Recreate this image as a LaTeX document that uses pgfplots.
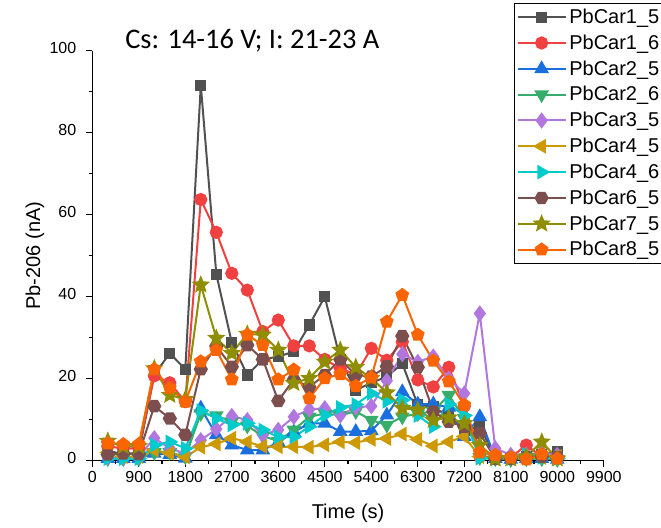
\documentclass[border=0pt]{standalone}
\usepackage{fontspec}
\setmainfont{Liberation Sans}
\newfontfamily\titlefont{Carlito}
\usepackage{pgfplots}
\pgfplotsset{compat=1.18}
\usetikzlibrary{plotmarks}
\definecolor{c1}{HTML}{515151}
\definecolor{c2}{HTML}{F14040}
\definecolor{c3}{HTML}{1A6FDF}
\definecolor{c4}{HTML}{37AD6B}
\definecolor{c5}{HTML}{B177DE}
\definecolor{c6}{HTML}{CC9900}
\definecolor{c7}{HTML}{00CBCC}
\definecolor{c8}{HTML}{7D4E4E}
\definecolor{c9}{HTML}{8E8E00}
\definecolor{c10}{HTML}{FB6501}
\pgfdeclareplotmark{hexagon*}{%
  \pgfpathmoveto{\pgfpointpolar{0}{\pgfplotmarksize}}%
  \pgfpathlineto{\pgfpointpolar{60}{\pgfplotmarksize}}%
  \pgfpathlineto{\pgfpointpolar{120}{\pgfplotmarksize}}%
  \pgfpathlineto{\pgfpointpolar{180}{\pgfplotmarksize}}%
  \pgfpathlineto{\pgfpointpolar{240}{\pgfplotmarksize}}%
  \pgfpathlineto{\pgfpointpolar{300}{\pgfplotmarksize}}%
  \pgfpathclose\pgfusepathqfillstroke}
\pgfdeclareplotmark{fstar*}{%
  \pgfpathmoveto{\pgfpointpolar{90}{\pgfplotmarksize}}%
  \pgfpathlineto{\pgfpointpolar{126}{0.45\pgfplotmarksize}}%
  \pgfpathlineto{\pgfpointpolar{162}{\pgfplotmarksize}}%
  \pgfpathlineto{\pgfpointpolar{198}{0.45\pgfplotmarksize}}%
  \pgfpathlineto{\pgfpointpolar{234}{\pgfplotmarksize}}%
  \pgfpathlineto{\pgfpointpolar{270}{0.45\pgfplotmarksize}}%
  \pgfpathlineto{\pgfpointpolar{306}{\pgfplotmarksize}}%
  \pgfpathlineto{\pgfpointpolar{342}{0.45\pgfplotmarksize}}%
  \pgfpathlineto{\pgfpointpolar{18}{\pgfplotmarksize}}%
  \pgfpathlineto{\pgfpointpolar{54}{0.45\pgfplotmarksize}}%
  \pgfpathclose\pgfusepathqfillstroke}
\newcommand{\legw}[1]{\makebox[110pt][l]{#1}}
\begin{document}
\begin{tikzpicture}[x=0.75pt,y=0.75pt]
\path (0,0) rectangle (661,525);
\begin{axis}[
  at={(69.225pt,48.225pt)}, anchor=south west,
  scale only axis, width=383.625pt, height=307.5pt,
  xmin=0, xmax=9900, ymin=0, ymax=100,
  axis lines=left, axis line style={-, line width=1.1pt},
  xtick={0,900,...,9900}, ytick={0,20,...,100},
  minor x tick num=1, minor y tick num=1,
  tick align=outside, major tick length=4.5pt, minor tick length=2.6pt,
  every tick/.style={line width=1pt, black},
  tick label style={font=\fontsize{12}{14}\selectfont},
  yticklabel style={xshift=-4pt, yshift=2pt},
  /pgf/number format/assume math mode=true,
  /pgf/number format/set thousands separator={},
  xlabel={Time (s)}, ylabel={Pb-206 (nA)},
  label style={font=\fontsize{15}{17}\selectfont},
  xlabel style={at={(axis description cs:0.5,-0.1422)}, anchor=base},
  ylabel style={at={(axis description cs:-0.112,0.5)}, anchor=center},
  legend style={at={(0.8245,1.117)}, anchor=north west, draw=black, line width=0.9pt,
    font=\fontsize{15}{17}\selectfont, row sep=3pt, inner xsep=1.5pt, inner ysep=2.2pt, overlay},
  legend cell align=left,
  legend image code/.code={\draw[mark repeat=2,mark phase=2] plot coordinates {(0pt,0pt) (18pt,0pt) (36pt,0pt)};},
  every axis plot/.append style={line width=1.5pt},
  clip=false,
]
\addplot[color=c1, mark=square*, mark size=3.45pt, mark options={solid}] coordinates {
(300,2.5)(600,1.5)(900,2)(1200,21)(1500,26.2)(1800,22.3)(2100,91.6)(2400,45.5)(2700,28.8)(3000,20.9)
(3300,24.7)(3600,25.4)(3900,26.6)(4200,33.1)(4500,40.0)(4800,24.6)(5100,17.2)(5400,19)(5700,20.5)(6000,23.7)
(6300,13.6)(6600,13.2)(6900,10.7)(7200,7.5)(7500,8.3)(7800,0.8)(8100,0.5)(8400,1.0)(8700,1.5)(9000,2.2)};
\addlegendentry{\legw{PbCar1\_5}}
\addplot[color=c2, mark=*, mark size=4.2pt, mark options={solid}] coordinates {
(300,3.5)(600,3)(900,3)(1200,20.7)(1500,19.0)(1800,14.4)(2100,63.7)(2400,55.7)(2700,45.7)(3000,41.6)
(3300,31.5)(3600,34.3)(3900,28.0)(4200,28.0)(4500,24.7)(4800,22.5)(5100,21)(5400,27.4)(5700,24.5)(6000,29.0)
(6300,19.7)(6600,18)(6900,22.8)(7200,13.3)(7500,1)(7800,0.8)(8100,0.8)(8400,3.8)(8700,1.0)(9000,0.5)};
\addlegendentry{\legw{PbCar1\_6}}
\addplot[color=c3, mark=triangle*, mark size=4.9pt, mark options={solid}] coordinates {
(300,0.5)(600,0.5)(900,0.5)(1200,1.8)(1500,1.5)(1800,0.6)(2100,12.8)(2400,6.3)(2700,3.8)(3000,2.6)
(3300,2.6)(3600,4.5)(3900,7)(4200,9.1)(4500,9.1)(4800,7.1)(5100,7.1)(5400,7.3)(5700,11.1)(6000,16.8)
(6300,13.8)(6600,13.8)(6900,13)(7200,5.9)(7500,10.7)(7800,0.5)(8100,0.3)(8400,0.5)(8700,0.5)(9000,0.3)};
\addlegendentry{\legw{PbCar2\_5}}
\addplot[color=c4, mark=triangle*, mark size=4.9pt, mark options={solid, rotate=180}] coordinates {
(300,0.5)(600,0.5)(900,0.5)(1200,2)(1500,2)(1800,1)(2100,11.5)(2400,11)(2700,9.5)(3000,8.5)
(3300,6)(3600,4.8)(3900,7.5)(4200,10.7)(4500,11.5)(4800,11.1)(5100,12)(5400,9.9)(5700,8.7)(6000,10.7)
(6300,11.5)(6600,12)(6900,16)(7200,10.3)(7500,0.8)(7800,0.5)(8100,0.3)(8400,0.5)(8700,0.5)(9000,0.3)};
\addlegendentry{\legw{PbCar2\_6}}
\addplot[color=c5, mark=diamond*, mark size=4.9pt, mark options={solid}] coordinates {
(300,0.8)(600,0.8)(900,1)(1200,5.5)(1500,3.0)(1800,1.8)(2100,5.0)(2400,7.7)(2700,10.9)(3000,9.9)
(3300,6.3)(3600,7.5)(3900,10.7)(4200,12.5)(4500,12.8)(4800,11.1)(5100,13)(5400,13.3)(5700,19.5)(6000,26.0)
(6300,24.1)(6600,25.4)(6900,20)(7200,16.4)(7500,35.9)(7800,3.0)(8100,1.4)(8400,1.5)(8700,2)(9000,1.4)};
\addlegendentry{\legw{PbCar3\_5}}
\addplot[color=c6, mark=triangle*, mark size=4.9pt, mark options={solid, rotate=90}] coordinates {
(300,2)(600,1)(900,1)(1200,2.6)(1500,1.8)(1800,0.9)(2100,3.3)(2400,4.1)(2700,5.5)(3000,4.6)
(3300,3.5)(3600,3.4)(3900,3.4)(4200,3.3)(4500,3.9)(4800,4.6)(5100,4.4)(5400,5.2)(5700,5.4)(6000,6.5)
(6300,5.2)(6600,3.6)(6900,4.6)(7200,5.9)(7500,1)(7800,0.5)(8100,0.5)(8400,0.8)(8700,0.8)(9000,1.0)};
\addlegendentry{\legw{PbCar4\_5}}
\addplot[color=c7, mark=triangle*, mark size=4.9pt, mark options={solid, rotate=270}] coordinates {
(300,0.5)(600,0.5)(900,0.5)(1200,3.8)(1500,4.6)(1800,3.0)(2100,12.2)(2400,10.3)(2700,8.7)(3000,9.1)
(3300,7.5)(3600,5.8)(3900,5.8)(4200,8.3)(4500,11.1)(4800,13)(5100,13.7)(5400,16.4)(5700,14.5)(6000,14.8)
(6300,11)(6600,8.3)(6900,13.8)(7200,11)(7500,0.6)(7800,0.5)(8100,0.5)(8400,1.5)(8700,0.8)(9000,0.5)};
\addlegendentry{\legw{PbCar4\_6}}
\addplot[color=c8, mark=hexagon*, mark size=4.5pt, mark options={solid}] coordinates {
(300,1.5)(600,1.8)(900,1.6)(1200,13.3)(1500,10.3)(1800,6.3)(2100,22.3)(2400,28.0)(2700,22.9)(3000,28.2)
(3300,24.7)(3600,14.6)(3900,19.8)(4200,18.0)(4500,20.9)(4800,24.7)(5100,20.9)(5400,20.5)(5700,23)(6000,30.4)
(6300,22.8)(6600,12)(6900,9.5)(7200,8.3)(7500,6.7)(7800,0.5)(8100,0.5)(8400,0.8)(8700,1)(9000,0.8)};
\addlegendentry{\legw{PbCar6\_5}}
\addplot[color=c9, mark=fstar*, mark size=5.25pt, mark options={solid}] coordinates {
(300,4.8)(600,3.5)(900,3.5)(1200,22.5)(1500,16.0)(1800,15.0)(2100,42.9)(2400,29.9)(2700,26.2)(3000,30.9)
(3300,30.7)(3600,27.0)(3900,18.9)(4200,20.1)(4500,24.1)(4800,27.0)(5100,22.8)(5400,20.1)(5700,16.6)(6000,12.8)
(6300,12.4)(6600,9.9)(6900,10.5)(7200,9.1)(7500,3.8)(7800,0.5)(8100,0.5)(8400,1)(8700,4.6)(9000,0.5)};
\addlegendentry{\legw{PbCar7\_5}}
\addplot[color=c10, mark=pentagon*, mark size=4.5pt, mark options={solid}] coordinates {
(300,4.2)(600,4)(900,4)(1200,22.3)(1500,17.7)(1800,14.4)(2100,24.2)(2400,27)(2700,19.8)(3000,30.7)
(3300,28.2)(3600,19.8)(3900,22.2)(4200,15.2)(4500,20.1)(4800,21.1)(5100,18.2)(5400,20.3)(5700,33.9)(6000,40.4)
(6300,30.7)(6600,24.4)(6900,19.3)(7200,13.6)(7500,2.0)(7800,1.4)(8100,0.8)(8400,0.3)(8700,1.6)(9000,0.5)};
\addlegendentry{\legw{PbCar8\_5}}
\end{axis}
\node[anchor=base west, inner sep=0pt, font=\titlefont\fontsize{21.3}{24}\selectfont] at (125,476.7) {Cs: 14-16 V; I: 21-23 A};
\end{tikzpicture}
\end{document}
